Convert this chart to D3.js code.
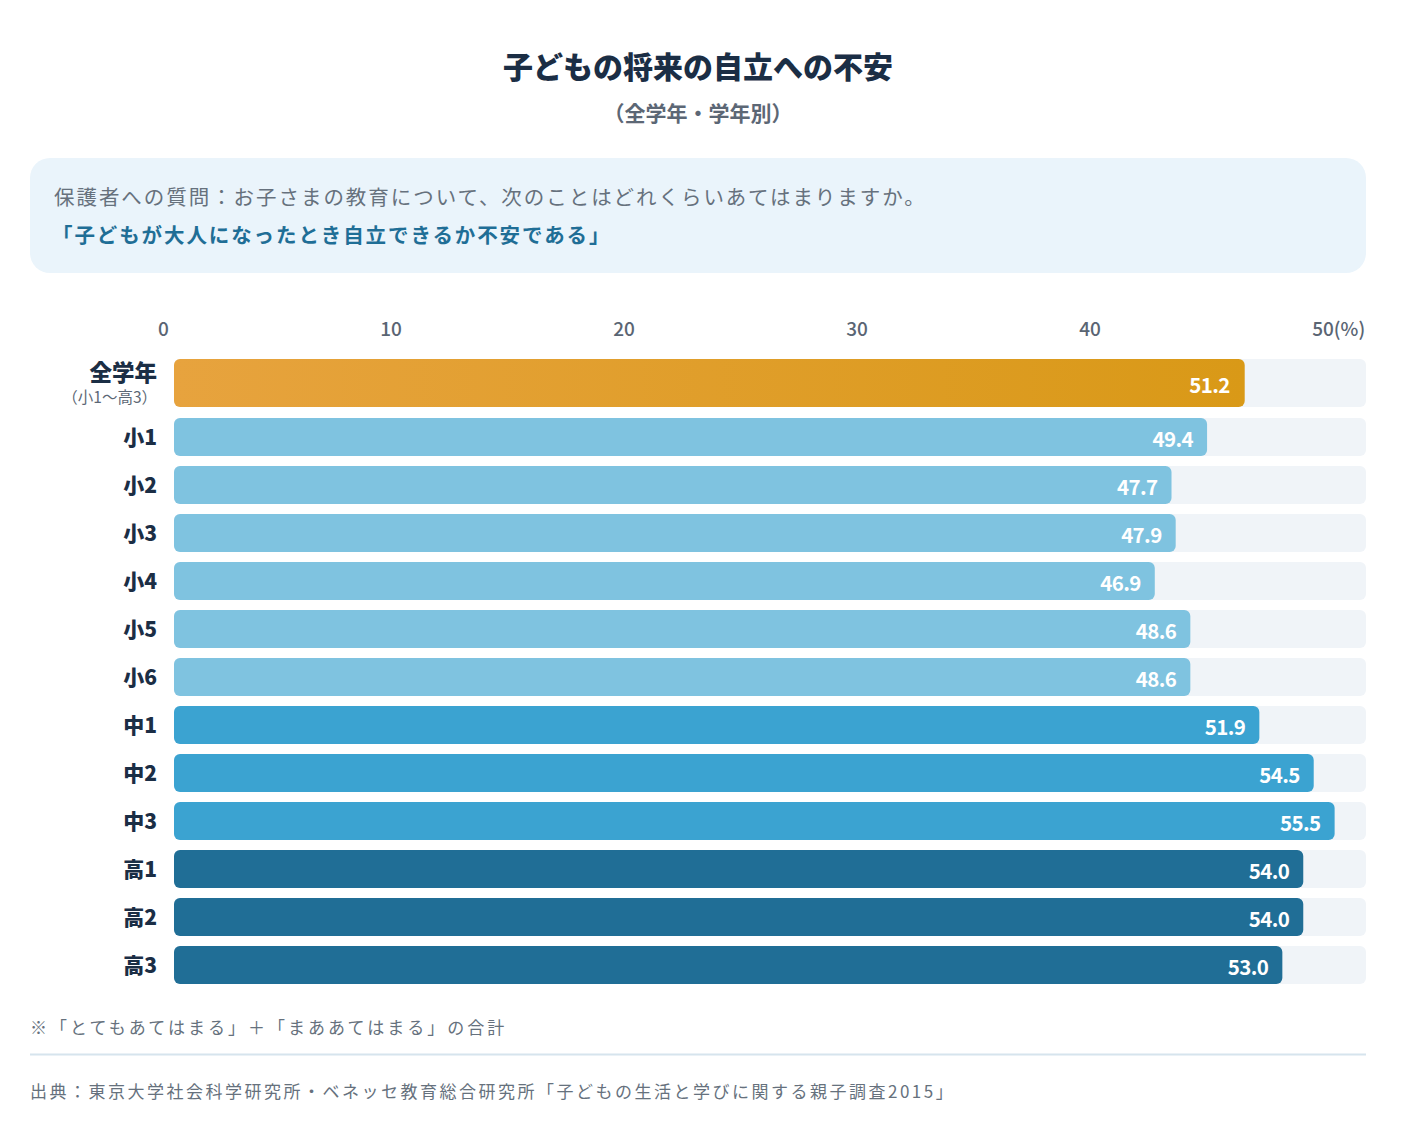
<!DOCTYPE html>
<html lang="ja">
<head>
<meta charset="utf-8">
<script src="https://cdn.jsdelivr.net/npm/d3@7"></script>
<style>
  html, body { margin: 0; padding: 0; background: #ffffff; }
  svg { display: block; }
  text { font-family: "Noto Sans CJK JP", "Noto Sans", sans-serif; }
</style>
</head>
<body>
<svg id="chart" width="1402" height="1136"></svg>
<script>
// ---- data ----
const titleText = "子どもの将来の自立への不安";
const subtitleText = "（全学年・学年別）";
const questionText = "保護者への質問：お子さまの教育について、次のことはどれくらいあてはまりますか。";
const itemText = "「子どもが大人になったとき自立できるか不安である」";
const noteText = "※「とてもあてはまる」＋「まああてはまる」の合計";
const sourceText = "出典：東京大学社会科学研究所・ベネッセ教育総合研究所「子どもの生活と学びに関する親子調査2015」";

const totalLabel = "全学年";
const totalSubLabel = "（小1〜高3）";
const totalValue = 51.2;

const grades = ["小1","小2","小3","小4","小5","小6","中1","中2","中3","高1","高2","高3"];
const gradeValues = [49.4, 47.7, 47.9, 46.9, 48.6, 48.6, 51.9, 54.5, 55.5, 54.0, 54.0, 53.0];
const gradeGroups = ["小","小","小","小","小","小","中","中","中","高","高","高"];

const tickValues = [0, 10, 20, 30, 40, 50];
const tickLabels = ["0", "10", "20", "30", "40", "50"];
const tickUnit = "(%)";
const axisMax = 57;

// ---- styles ----
const colors = { "小": "#7FC3E0", "中": "#3BA3D1", "高": "#206E96" };
const trackColor = "#F0F4F8";

const svg = d3.select("#chart");
const cx = 698;

// gradient for total bar
const defs = svg.append("defs");
const grad = defs.append("linearGradient").attr("id", "gOrange")
  .attr("x1", "0%").attr("x2", "100%").attr("y1", "0%").attr("y2", "0%");
grad.append("stop").attr("offset", "0%").attr("stop-color", "#E7A33E");
grad.append("stop").attr("offset", "100%").attr("stop-color", "#D99917");

// title
svg.append("text").attr("x", cx).attr("y", 78).attr("text-anchor", "middle")
  .attr("font-size", 30).attr("font-weight", 900).attr("fill", "#1B2E45")
  .text(titleText);
svg.append("text").attr("x", cx).attr("y", 121).attr("text-anchor", "middle")
  .attr("font-size", 21).attr("font-weight", 700).attr("fill", "#5C6775")
  .text(subtitleText);

// question box
svg.append("rect").attr("x", 30).attr("y", 158).attr("width", 1336).attr("height", 115)
  .attr("rx", 20).attr("fill", "#EAF4FB");
svg.append("text").attr("x", 54).attr("y", 205)
  .attr("font-size", 20.5).attr("letter-spacing", "1.95px").attr("fill", "#66717D")
  .text(questionText);
svg.append("text").attr("x", 52).attr("y", 243)
  .attr("font-size", 20.5).attr("font-weight", 700).attr("letter-spacing", "1.9px").attr("fill", "#1F6E96")
  .text(itemText);

// scales
const x = d3.scaleLinear().domain([0, axisMax]).range([174, 1366]);
const axisX = d3.scaleLinear().domain([0, 50]).range([158, 1323]);
const y = d3.scaleBand().domain(grades).range([413, 413 + 12 * 48])
  .paddingInner(10 / 48).paddingOuter(5 / 48);

// axis labels
const axisG = svg.append("g");
tickValues.forEach((t, i) => {
  const last = i === tickValues.length - 1;
  const txt = axisG.append("text")
    .attr("y", 336)
    .attr("font-size", 19).attr("font-weight", 500).attr("fill", "#5A6573");
  if (i === 0) {
    txt.attr("x", axisX(t)).attr("text-anchor", "start").text(tickLabels[i]);
  } else if (last) {
    txt.attr("text-anchor", "start").text(tickLabels[i]);
    const wNum = txt.node().getComputedTextLength();
    txt.append("tspan").text(tickUnit);
    txt.attr("x", axisX(t) - wNum / 2);
  } else {
    txt.attr("x", axisX(t)).attr("text-anchor", "middle").text(tickLabels[i]);
  }
});

const r = 6;
const valueFont = 20.5;
// total row
const totY = 359, totH = 48;
svg.append("rect").attr("x", x(0)).attr("y", totY).attr("width", x(axisMax) - x(0)).attr("height", totH)
  .attr("rx", r).attr("fill", trackColor);
svg.append("rect").attr("x", x(0)).attr("y", totY).attr("width", x(totalValue) - x(0)).attr("height", totH)
  .attr("rx", r).attr("fill", "url(#gOrange)");
svg.append("text").attr("x", x(totalValue) - 15).attr("y", totY + totH / 2 + 10)
  .attr("text-anchor", "end").attr("font-size", valueFont).attr("font-weight", 700)
  .attr("letter-spacing", "-0.6px").attr("fill", "#ffffff")
  .text(totalValue.toFixed(1));
svg.append("text").attr("x", 157).attr("y", 381).attr("text-anchor", "end")
  .attr("font-size", 22.5).attr("font-weight", 900).attr("fill", "#1B2E45").text(totalLabel);
svg.append("text").attr("x", 157).attr("y", 403).attr("text-anchor", "end")
  .attr("font-size", 15.5).attr("fill", "#5C6775").text(totalSubLabel);

// grade rows
const rows = grades.map((g, i) => ({ g, v: gradeValues[i], grp: gradeGroups[i] }));
const rowG = svg.append("g").selectAll("g").data(rows).join("g");
rowG.append("rect").attr("x", x(0)).attr("y", d => y(d.g))
  .attr("width", x(axisMax) - x(0)).attr("height", y.bandwidth())
  .attr("rx", r).attr("fill", trackColor);
rowG.append("rect").attr("x", x(0)).attr("y", d => y(d.g))
  .attr("width", d => x(d.v) - x(0)).attr("height", y.bandwidth())
  .attr("rx", r).attr("fill", d => colors[d.grp]);
rowG.append("text").attr("x", d => x(d.v) - 14).attr("y", d => y(d.g) + y.bandwidth() / 2 + 9.5)
  .attr("text-anchor", "end").attr("font-size", valueFont).attr("font-weight", 700)
  .attr("letter-spacing", "-0.6px").attr("fill", "#ffffff")
  .text(d => d.v.toFixed(1));
rowG.append("text").attr("x", 157).attr("y", d => y(d.g) + y.bandwidth() / 2 + 7.5)
  .attr("text-anchor", "end").attr("font-size", 21).attr("font-weight", 900).attr("fill", "#1B2E45")
  .text(d => d.g);

// footnote
svg.append("text").attr("x", 30).attr("y", 1034)
  .attr("font-size", 17).attr("letter-spacing", "3px").attr("fill", "#66717D").text(noteText);
svg.append("line").attr("x1", 30).attr("x2", 1366).attr("y1", 1054.5).attr("y2", 1054.5)
  .attr("stroke", "#D6E4ED").attr("stroke-width", 2);
svg.append("text").attr("x", 30).attr("y", 1098)
  .attr("font-size", 17).attr("letter-spacing", "2.5px").attr("fill", "#66717D").text(sourceText);
</script>
</body>
</html>
